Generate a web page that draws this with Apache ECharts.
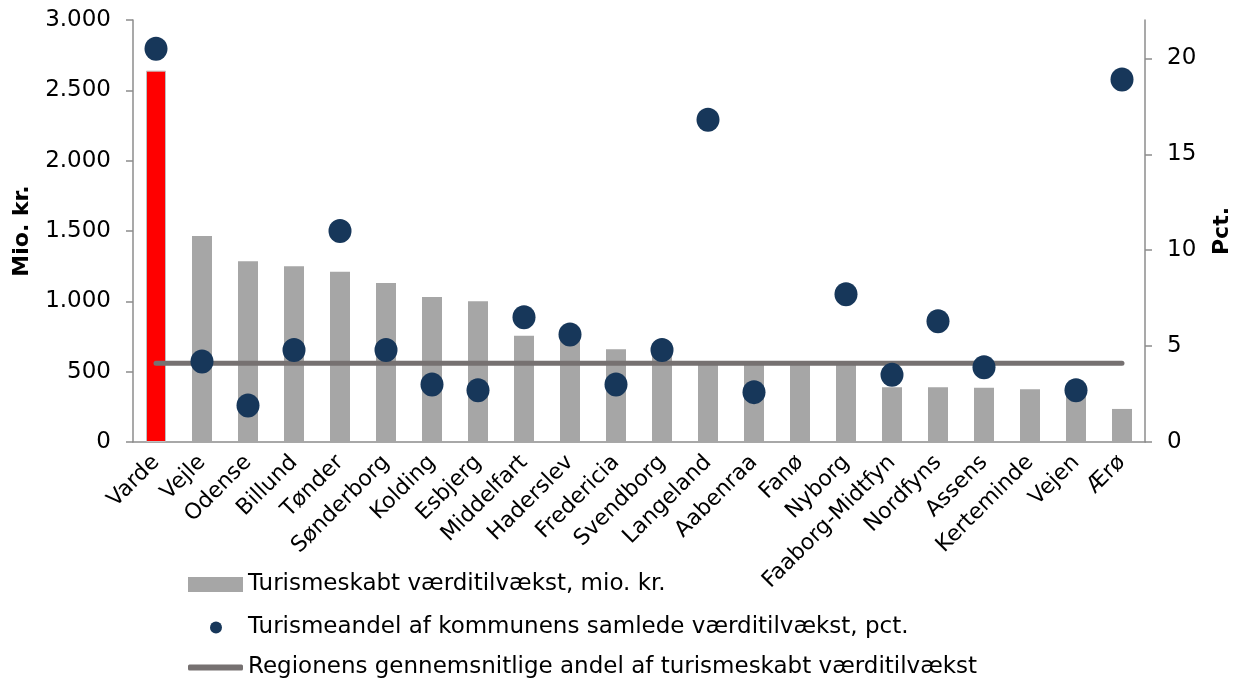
<!DOCTYPE html>
<html>
<head>
  <meta charset="utf-8">
  <title>Turisme</title>
  <script src="https://cdn.jsdelivr.net/npm/echarts@6/dist/echarts.min.js"></script>
  <style>
  html, body { margin: 0; padding: 0; background: #fff; }
  #main { width: 1241px; height: 684px; }
  </style>
</head>
<body>
  <div id="main"></div>
  <script type="text/javascript">
  var kommuner = ['Varde', 'Vejle', 'Odense', 'Billund', 'Tønder', 'Sønderborg', 'Kolding', 'Esbjerg',
    'Middelfart', 'Haderslev', 'Fredericia', 'Svendborg', 'Langeland', 'Aabenraa', 'Fanø', 'Nyborg',
    'Faaborg-Midtfyn', 'Nordfyns', 'Assens', 'Kerteminde', 'Vejen', 'Ærø'];
  var vaerdi = [2640, 1465, 1285, 1250, 1210, 1130, 1030, 1000, 755, 740, 660, 620, 560, 560, 560, 560,
    390, 390, 385, 375, 370, 235];
  var andel = [20.5, 4.2, 1.9, 4.8, 11.0, 4.8, 3.0, 2.7, 6.5, 5.6, 3.0, 4.8, 16.8, 2.6, null, 7.7,
    3.5, 6.3, 3.9, null, 2.7, 18.9];
  var regionGns = 4.1;
  var yLeftTicks = [0, 500, 1000, 1500, 2000, 2500, 3000];
  var yRightTicks = [0, 5, 10, 15, 20];

  var navne = ['Turismeskabt værditilvækst, mio. kr.',
    'Turismeandel af kommunens samlede værditilvækst, pct.',
    'Regionens gennemsnitlige andel af turismeskabt værditilvækst'];

  var font = 'DejaVu Sans';
  var axisGrey = '#8c8c8c';
  var prikFarve = '#17375a';

  var barData = vaerdi.map(function (v, i) {
    if (i === 0) {
      return { value: v, itemStyle: { color: '#ff0000', borderColor: '#bfbfbf', borderWidth: 1 } };
    }
    return v;
  });

  // one legend per row so each icon can get its own size
  var legendRows = [
    { icon: 'rect', left: 183, top: 568, w: 55, h: 15, pad: 0 },
    { icon: 'circle', left: 205, top: 611, w: 12, h: 12, pad: 21 },
    { icon: 'roundRect', left: 183, top: 651, w: 55, h: 6, pad: 0 }
  ];

  var myChart = echarts.init(document.getElementById('main'));
  var option = {
    animation: false,
    textStyle: { fontFamily: font },
    grid: { left: 133, right: 96, top: 20, bottom: 242, containLabel: false },
    legend: legendRows.map(function (r, k) {
      return {
        data: [{ name: navne[k], icon: r.icon }],
        left: r.left,
        top: r.top,
        itemWidth: r.w,
        itemHeight: r.h,
        itemGap: 0,
        textStyle: { fontFamily: font, fontSize: 23, color: '#000', padding: [0, 0, 0, r.pad] },
        selectedMode: false
      };
    }),
    xAxis: {
      type: 'category',
      data: kommuner,
      axisLine: { lineStyle: { color: axisGrey, width: 1.5 } },
      axisTick: { lineStyle: { color: axisGrey, width: 1.5 }, length: 7 },
      axisLabel: { rotate: 45, fontSize: 22, color: '#000', margin: 17, interval: 0 }
    },
    yAxis: [{
      type: 'value',
      min: 0,
      max: 3000,
      interval: 500,
      name: 'Mio. kr.',
      nameLocation: 'middle',
      nameRotate: 90,
      nameGap: 100,
      nameTextStyle: { fontFamily: font, fontSize: 22, fontWeight: 'bold', color: '#000' },
      axisLine: { show: true, lineStyle: { color: axisGrey, width: 1.5 } },
      axisTick: { show: true, length: 7, lineStyle: { color: axisGrey, width: 1.5 } },
      splitLine: { show: false },
      axisLabel: {
        fontSize: 23, color: '#000', margin: 22,
        formatter: function (v) {
          return yLeftTicks.indexOf(v) < 0 ? '' : String(v).replace(/\B(?=(\d{3})+(?!\d))/g, '.');
        }
      }
    }, {
      type: 'value',
      min: 0,
      max: 22,
      interval: 5,
      name: 'Pct.',
      nameLocation: 'middle',
      nameRotate: 90,
      nameGap: 66,
      nameTextStyle: { fontFamily: font, fontSize: 22, fontWeight: 'bold', color: '#000' },
      axisLine: { show: true, lineStyle: { color: axisGrey, width: 1.5 } },
      axisTick: { show: true, length: 7, lineStyle: { color: axisGrey, width: 1.5 } },
      splitLine: { show: false },
      axisLabel: {
        fontSize: 23, color: '#000', margin: 22, showMaxLabel: false,
        formatter: function (v) { return yRightTicks.indexOf(v) < 0 ? '' : String(v); }
      }
    }],
    series: [{
      name: navne[0],
      type: 'bar',
      data: barData,
      barWidth: 20,
      itemStyle: { color: '#a6a6a6' },
      z: 1
    }, {
      name: navne[2],
      type: 'line',
      yAxisIndex: 1,
      data: kommuner.map(function () { return regionGns; }),
      symbol: 'none',
      lineStyle: { color: '#767171', width: 5, cap: 'round' },
      itemStyle: { color: '#767171' },
      z: 2
    }, {
      name: navne[1],
      type: 'scatter',
      yAxisIndex: 1,
      data: andel,
      symbol: 'circle',
      symbolSize: [23, 24],
      itemStyle: { color: prikFarve, opacity: 1 },
      z: 3
    }]
  };
  myChart.setOption(option);
  </script>
</body>
</html>
